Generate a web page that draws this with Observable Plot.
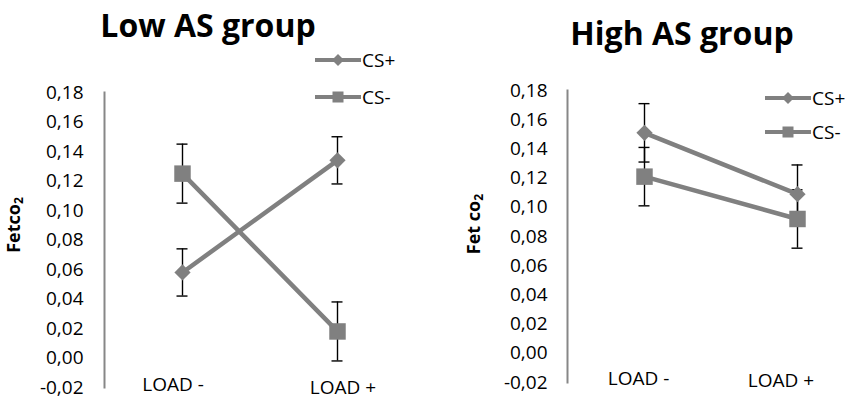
<!DOCTYPE html>
<html>
<head>
<meta charset="utf-8">
<script src="https://cdn.jsdelivr.net/npm/d3@7"></script>
<script src="https://cdn.jsdelivr.net/npm/@observablehq/plot@0.6"></script>
<style>
  html, body { margin: 0; padding: 0; background: #fff; }
  #root { position: relative; width: 845px; height: 398px; overflow: hidden; font-family: "Open Sans", sans-serif; color: #000; }
  .panel { position: absolute; top: 0; }
  .title { position: absolute; font-weight: 700; font-size: 32px; line-height: 32px; white-space: nowrap; transform: translateX(-50%); }
  .ytitle { position: absolute; font-weight: 700; font-size: 18px; line-height: 18px; white-space: nowrap; transform: translate(-50%, -50%) rotate(-90deg); }
  .ytitle sub { font-size: 12px; vertical-align: -3px; line-height: 0; }
  .leg { position: absolute; height: 20px; display: flex; align-items: center; font-size: 19px; line-height: 19px; white-space: nowrap; }
  .leg svg { display: block; margin-right: 1px; }
</style>
</head>
<body>
<div id="root"></div>
<script>
// ---- data ----
const categories = ["LOAD -", "LOAD +"];
const seriesNames = ["CS+", "CS-"];
const yTicks = [-0.02, 0.00, 0.02, 0.04, 0.06, 0.08, 0.10, 0.12, 0.14, 0.16, 0.18];

const lowCSplus = [0.058, 0.134];
const lowCSplusErr = [0.016, 0.016];
const lowCSminus = [0.125, 0.018];
const lowCSminusErr = [0.020, 0.020];

const highCSplus = [0.151, 0.109];
const highCSplusErr = [0.020, 0.020];
const highCSminus = [0.121, 0.092];
const highCSminusErr = [0.020, 0.020];

const titles = ["Low AS group", "High AS group"];

// ---- helpers ----
const GRAY = "#808080";
const fmt = d => d.toFixed(2).replace(".", ",");
function rows(series, vals, errs) {
  return categories.map((c, i) => ({cat: c, series, value: vals[i], lo: vals[i] - errs[i], hi: vals[i] + errs[i]}));
}

function panel(plusRows, minusRows, cfg) {
  const all = plusRows.concat(minusRows);
  return Plot.plot({
    width: cfg.width,
    height: 398,
    marginLeft: cfg.marginLeft,
    marginRight: cfg.marginRight,
    marginTop: cfg.marginTop,
    marginBottom: cfg.marginBottom,
    style: {fontFamily: "Open Sans", fontSize: "19px", color: "#000", background: "transparent", overflow: "visible"},
    x: {type: "point", domain: categories, padding: 0.5, range: cfg.xRange},
    y: {domain: [-0.02, 0.18]},
    marks: [
      Plot.frame({anchor: "left", stroke: "#878787", strokeWidth: 2}),
      Plot.axisY({ticks: yTicks, tickSize: 0, tickPadding: cfg.tickPadding, tickFormat: fmt, label: null}),
      Plot.axisX([categories[0]], {tickSize: 0, tickPadding: 0, dx: cfg.lab0[0], dy: cfg.lab0[1], label: null}),
      Plot.axisX([categories[1]], {tickSize: 0, tickPadding: 0, dx: cfg.lab1[0], dy: cfg.lab1[1], label: null}),
      Plot.ruleX(all, {x: "cat", y1: "lo", y2: "hi", stroke: "#000", strokeWidth: 1.4}),
      Plot.ruleY(all, {x1: "cat", x2: "cat", y: "lo", stroke: "#000", strokeWidth: 1.4, insetLeft: -5.5, insetRight: -5.5}),
      Plot.ruleY(all, {x1: "cat", x2: "cat", y: "hi", stroke: "#000", strokeWidth: 1.4, insetLeft: -5.5, insetRight: -5.5}),
      Plot.line(all, {x: "cat", y: "value", z: "series", stroke: GRAY, strokeWidth: 4.5}),
      Plot.dot(plusRows, {x: "cat", y: "value", symbol: "diamond2", r: 7.3, fill: GRAY, stroke: "none"}),
      Plot.dot(minusRows, {x: "cat", y: "value", symbol: "square", r: 9.3, fill: GRAY, stroke: "none"})
    ]
  });
}

function legendItem(name, x, yc, isDiamond) {
  const d = document.createElement("div");
  d.className = "leg";
  d.style.left = x + "px";
  d.style.top = (yc - 10) + "px";
  const marker = isDiamond
    ? '<path d="M23,4 L29,10 L23,16 L17,10 Z" fill="' + GRAY + '"/>'
    : '<rect x="17.5" y="4.5" width="11" height="11" fill="' + GRAY + '"/>';
  d.innerHTML = '<svg width="46" height="20"><line x1="0" y1="10" x2="46" y2="10" stroke="' + GRAY + '" stroke-width="4"/>' + marker + '</svg><span>' + name + '</span>';
  return d;
}

const root = document.getElementById("root");

// left panel
const left = document.createElement("div");
left.className = "panel"; left.style.left = "0px";
left.appendChild(panel(rows(seriesNames[0], lowCSplus, lowCSplusErr), rows(seriesNames[1], lowCSminus, lowCSminusErr), {
  width: 420, marginLeft: 104, marginRight: 6, marginTop: 92, marginBottom: 11,
  xRange: [104, 414], tickPadding: 21, lab0: [-9.5, -10], lab1: [5.5, -7]
}));
root.appendChild(left);

// right panel
const right = document.createElement("div");
right.className = "panel"; right.style.left = "420px";
right.appendChild(panel(rows(seriesNames[0], highCSplus, highCSplusErr), rows(seriesNames[1], highCSminus, highCSminusErr), {
  width: 425, marginLeft: 147, marginRight: 0, marginTop: 90, marginBottom: 16,
  xRange: [147, 453], tickPadding: 20, lab0: [-6, -11], lab1: [-16.5, -9]
}));
root.appendChild(right);

// titles
function addTitle(text, cx, top) {
  const t = document.createElement("div");
  t.className = "title"; t.textContent = text;
  t.style.left = cx + "px"; t.style.top = top + "px";
  root.appendChild(t);
}
addTitle(titles[0], 208, 9);
addTitle(titles[1], 682, 17);

// y titles
function addYTitle(html, cx, cy) {
  const t = document.createElement("div");
  t.className = "ytitle"; t.innerHTML = html;
  t.style.left = cx + "px"; t.style.top = cy + "px";
  root.appendChild(t);
}
addYTitle("Fetco<sub>2</sub>", 13, 225);
addYTitle("Fet co<sub>2</sub>", 473, 224);

// legends
root.appendChild(legendItem(seriesNames[0], 315, 60, true));
root.appendChild(legendItem(seriesNames[1], 315, 97, false));
root.appendChild(legendItem(seriesNames[0], 765, 98, true));
root.appendChild(legendItem(seriesNames[1], 765, 132, false));
</script>
</body>
</html>
